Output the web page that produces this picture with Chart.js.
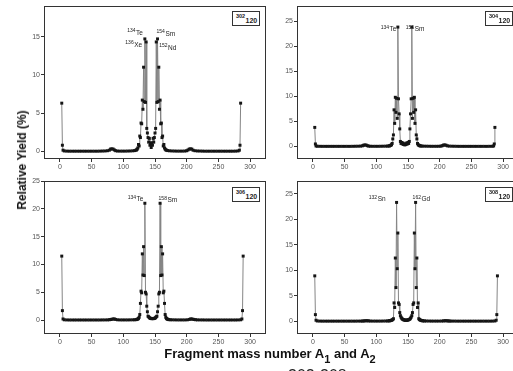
<!DOCTYPE html>
<html>
<head>
<meta charset="utf-8">
<script src="https://cdn.jsdelivr.net/npm/chart.js@4.4.1/dist/chart.umd.min.js"></script>
<style>
  html, body { margin: 0; padding: 0; background: #fff; }
  body { width: 513px; height: 371px; overflow: hidden; position: relative; font-family: "Liberation Sans", Arial, sans-serif; }
  canvas { position: absolute; }
  .tag { position: absolute; width: 28px; height: 15px; box-sizing: border-box; border: 1px solid #333; background: #fff; font-weight: bold; color: #222; }
  .tag .a { position: absolute; left: 3px; top: 1.5px; font-size: 5.5px; line-height: 1; }
  .tag .z { position: absolute; left: 12.5px; top: 4.5px; font-size: 7px; line-height: 1; }
  #ytitle { position: absolute; left: 22px; top: 160px; transform: translate(-50%, -50%) rotate(-90deg); font-weight: bold; font-size: 12px; white-space: nowrap; color: #111; }
  #xtitle { position: absolute; left: 270px; top: 347px; transform: translateX(-50%); font-weight: bold; font-size: 13px; line-height: 13px; white-space: nowrap; color: #111; }
  #xtitle sub { font-size: 11px; vertical-align: -5px; line-height: 0; }
  #foot { position: absolute; left: 288px; top: 368px; font-size: 16px; line-height: 16px; color: #222; white-space: nowrap; }
</style>
</head>
<body>
<canvas id="p302" width="270" height="181" style="left:0;top:0"></canvas>
<canvas id="p304" width="270" height="181" style="left:253px;top:0"></canvas>
<canvas id="p306" width="270" height="181" style="left:0;top:175px"></canvas>
<canvas id="p308" width="270" height="181" style="left:253px;top:175px"></canvas>

<div class="tag" style="left:232px;top:11px"><span class="a">302</span><span class="z">120</span></div>
<div class="tag" style="left:485px;top:11px"><span class="a">304</span><span class="z">120</span></div>
<div class="tag" style="left:232px;top:187px"><span class="a">306</span><span class="z">120</span></div>
<div class="tag" style="left:485px;top:187px"><span class="a">308</span><span class="z">120</span></div>

<div id="ytitle">Relative Yield (%)</div>
<div id="xtitle">Fragment mass number A<sub>1</sub> and A<sub>2</sub></div>
<div id="foot">302-308</div>

<script>
const FONT = '"Liberation Sans", Arial, sans-serif';

const xTicks = [0, 50, 100, 150, 200, 250, 300];
const yTicks302 = [0, 5, 10, 15];
const yTicks304 = [0, 5, 10, 15, 20, 25];
const yTicks306 = [0, 5, 10, 15, 20, 25];
const yTicks308 = [0, 5, 10, 15, 20, 25];

// 302-120
const mass302 = [3,4,5,7,11,15,19,23,27,31,35,39,43,47,51,55,59,63,67,71,75,78,80,82,84,86,88,91,95,99,103,107,111,115,118,120,121,122,123,
  124,125,126,127,128,129,130,131,132,133,134,135,136,137,138,139,140,141,142,143,144,
  145,146,147,148,149,150,151,152,153,154,155,156,157,158,159,160,161,162,163,164,165,166,167,168,
  170,173,177,181,185,189,193,197,200,202,204,206,208,210,
  213,217,221,225,229,233,237,241,245,249,253,257,261,265,269,273,277,281,283,284,285];
const yield302 = [6.3,0.8,0.15,0.05,0.03,0.02,0.02,0.02,0.02,0.02,0.02,0.02,0.02,0.02,0.02,0.02,0.02,0.03,0.04,0.05,0.08,0.15,0.3,0.32,0.3,0.18,0.08,0.04,0.03,0.03,0.03,0.04,0.05,0.07,0.1,0.15,0.2,0.3,0.45,
  0.9,0.7,2.0,1.8,3.7,3.6,6.7,5.5,11.0,6.5,14.7,6.4,14.3,3.0,2.4,1.8,1.2,1.7,0.8,1.1,0.5,
  1.1,0.8,1.7,1.2,1.8,2.4,3.0,14.3,6.4,14.7,6.5,11.0,5.5,6.7,3.6,3.7,1.8,2.0,0.7,0.9,0.45,0.3,0.2,0.15,
  0.1,0.07,0.05,0.04,0.03,0.03,0.03,0.04,0.08,0.18,0.3,0.32,0.3,0.15,
  0.08,0.05,0.04,0.03,0.02,0.02,0.02,0.02,0.02,0.02,0.02,0.02,0.02,0.02,0.02,0.02,0.03,0.05,0.15,0.8,6.3];

// 304-120
const mass304 = [3,4,5,7,11,15,19,23,27,31,35,39,43,47,51,55,59,63,67,71,75,78,80,82,84,86,88,91,95,99,103,107,111,115,118,120,121,122,123,
  124,125,126,127,128,129,130,131,132,133,134,135,136,137,138,139,140,141,142,143,144,145,
  146,147,148,149,150,151,152,153,154,155,156,157,158,159,160,161,162,163,164,165,166,167,168,169,170,
  172,175,179,183,187,191,195,199,202,204,206,208,210,212,
  215,219,223,227,231,235,239,243,247,251,255,259,263,267,271,275,279,283,285,286,287];
const yield304 = [3.8,0.5,0.1,0.04,0.03,0.02,0.02,0.02,0.02,0.02,0.02,0.02,0.02,0.02,0.02,0.02,0.02,0.03,0.04,0.05,0.07,0.12,0.25,0.3,0.28,0.15,0.07,0.04,0.03,0.03,0.03,0.04,0.05,0.06,0.08,0.1,0.12,0.18,0.25,
  0.35,0.6,1.5,2.3,7.3,4.6,9.8,6.8,9.6,5.6,23.8,9.5,6.5,3.5,1.0,0.6,0.8,0.5,0.7,0.4,0.5,0.3,
  0.5,0.4,0.7,0.5,0.8,0.6,1.0,3.5,6.5,9.5,23.8,5.6,9.6,6.8,9.8,4.6,7.3,2.3,1.5,0.6,0.35,0.25,0.18,0.12,0.1,
  0.08,0.06,0.05,0.04,0.03,0.03,0.03,0.04,0.07,0.15,0.28,0.3,0.25,0.12,
  0.07,0.05,0.04,0.03,0.02,0.02,0.02,0.02,0.02,0.02,0.02,0.02,0.02,0.02,0.02,0.02,0.03,0.04,0.1,0.5,3.8];

// 306-120
const mass306 = [3,4,5,7,11,15,19,23,27,31,35,39,43,47,51,55,59,63,67,71,75,78,80,82,84,86,88,91,95,99,103,107,111,115,118,120,121,122,123,
  124,125,126,127,128,129,130,131,132,133,134,135,136,137,138,139,140,141,142,143,144,145,146,
  147,148,149,150,151,152,153,154,155,156,157,158,159,160,161,162,163,164,165,166,167,168,169,170,171,
  172,174,177,181,185,189,193,197,201,204,206,208,210,212,214,
  217,221,225,229,233,237,241,245,249,253,257,261,265,269,273,277,281,285,287,288,289];
const yield306 = [11.5,1.7,0.2,0.05,0.03,0.02,0.02,0.02,0.02,0.02,0.02,0.02,0.02,0.02,0.02,0.02,0.02,0.02,0.03,0.03,0.04,0.06,0.1,0.15,0.2,0.2,0.12,0.05,0.03,0.03,0.03,0.03,0.04,0.05,0.06,0.08,0.1,0.15,0.2,
  0.3,0.5,1.0,3.0,5.2,4.9,11.9,8.1,13.2,8.0,21.0,5.0,4.7,2.5,1.5,0.7,0.6,0.45,0.35,0.3,0.28,0.25,0.3,
  0.25,0.28,0.3,0.35,0.45,0.6,0.7,1.5,2.5,4.7,5.0,21.0,8.0,13.2,8.1,11.9,4.9,5.2,3.0,1.0,0.5,0.3,0.2,0.15,0.1,
  0.08,0.06,0.05,0.04,0.03,0.03,0.03,0.03,0.05,0.12,0.2,0.2,0.15,0.1,0.06,
  0.04,0.03,0.03,0.02,0.02,0.02,0.02,0.02,0.02,0.02,0.02,0.02,0.02,0.02,0.02,0.02,0.03,0.05,0.2,1.7,11.5];

// 308-120
const mass308 = [3,4,5,7,11,15,19,23,27,31,35,39,43,47,51,55,59,63,67,71,75,78,80,82,84,86,88,91,95,99,103,107,111,115,118,120,121,122,123,
  124,125,126,127,128,129,130,131,132,133,134,135,136,137,138,139,140,141,142,143,144,145,146,147,
  148,149,150,151,152,153,154,155,156,157,158,159,160,161,162,163,164,165,166,167,168,169,170,171,172,
  173,174,176,179,183,187,191,195,199,203,206,208,210,212,214,216,
  219,223,227,231,235,239,243,247,251,255,259,263,267,271,275,279,283,287,289,290,291];
const yield308 = [8.9,1.3,0.2,0.05,0.03,0.02,0.02,0.02,0.02,0.02,0.02,0.02,0.02,0.02,0.02,0.02,0.02,0.02,0.02,0.03,0.03,0.04,0.06,0.08,0.1,0.1,0.07,0.04,0.03,0.03,0.03,0.03,0.04,0.05,0.06,0.08,0.1,0.12,0.15,
  0.2,0.25,0.35,0.5,3.6,2.7,12.4,6.6,23.3,10.3,17.3,3.6,3.3,1.7,1.1,0.8,0.6,0.45,0.35,0.3,0.25,0.22,0.2,0.2,
  0.2,0.22,0.25,0.3,0.35,0.45,0.6,0.8,1.1,1.7,3.3,3.6,17.3,10.3,23.3,6.6,12.4,2.7,3.6,0.5,0.35,0.25,0.2,0.15,0.12,
  0.1,0.08,0.06,0.05,0.04,0.03,0.03,0.03,0.03,0.04,0.07,0.1,0.1,0.08,0.06,0.04,
  0.03,0.03,0.02,0.02,0.02,0.02,0.02,0.02,0.02,0.02,0.02,0.02,0.02,0.02,0.02,0.02,0.03,0.05,0.2,1.3,8.9];

// fragment names marked on the peaks
const nuclides302 = ['134Te', '136Xe', '154Sm', '152Nd'];
const nuclides304 = ['134Te', '156Sm'];
const nuclides306 = ['134Te', '158Sm'];
const nuclides308 = ['132Sn', '162Gd'];

// where each name sits next to its point (pixels)
const placeLabels = {
  '302': [{ align: 'right', dx: -2, dy: -4 }, { align: 'right', dx: -4, dy: 5 }, { align: 'left', dx: -1, dy: -3 }, { align: 'left', dx: 3, dy: 8 }],
  '304': [{ align: 'right', dx: -1.5, dy: 4 }, { align: 'left', dx: -6, dy: 4 }],
  '306': [{ align: 'right', dx: -1.5, dy: -2 }, { align: 'left', dx: -1.5, dy: -1 }],
  '308': [{ align: 'right', dx: -11, dy: -1 }, { align: 'left', dx: -3, dy: -1 }]
};

function framePlugin(names, places) {
  return {
    id: 'frame',
    afterDraw(chart) {
      const { ctx, chartArea: a } = chart;
      ctx.save();
      ctx.strokeStyle = '#333';
      ctx.lineWidth = 1;
      ctx.strokeRect(Math.round(a.left) + 0.5, Math.round(a.top) + 0.5,
        Math.round(a.right - a.left) - 1, Math.round(a.bottom - a.top) - 1);

      const pts = chart.data.datasets[0].data;
      const meta = chart.getDatasetMeta(0);
      ctx.fillStyle = '#222';
      ctx.textAlign = 'left';
      ctx.textBaseline = 'alphabetic';
      names.forEach((n, k) => {
        const sup = n.match(/^\d+/)[0];
        const sym = n.slice(sup.length);
        const i = pts.findIndex(p => p.x === Number(sup));
        if (i < 0) return;
        const el = meta.data[i];
        const p = places[k];
        ctx.font = '5px ' + FONT;
        const wSup = ctx.measureText(sup).width;
        ctx.font = '6.5px ' + FONT;
        const wSym = ctx.measureText(sym).width;
        const total = wSup + 0.5 + wSym;
        const x0 = p.align === 'right' ? el.x + p.dx - total : el.x + p.dx;
        const yb = el.y + p.dy;
        ctx.font = '5px ' + FONT;
        ctx.fillText(sup, x0, yb - 2.5);
        ctx.font = '6.5px ' + FONT;
        ctx.fillText(sym, x0 + wSup + 0.5, yb);
      });
      ctx.restore();
    }
  };
}

function makePanel(id, masses, yields, yMin, yMax, yTicks, names) {
  const pts = masses.map((m, i) => ({ x: m, y: yields[i] }));
  const tickFont = { size: 7, family: FONT };
  return new Chart(document.getElementById(id), {
    type: 'scatter',
    data: {
      datasets: [{
        data: pts,
        showLine: true,
        borderColor: '#858585',
        borderWidth: 1,
        tension: 0,
        pointStyle: 'rect',
        pointRadius: 2.1,
        pointBackgroundColor: '#151515',
        pointBorderWidth: 0
      }]
    },
    options: {
      responsive: false,
      animation: false,
      events: [],
      layout: { padding: { top: 6, right: 4, left: 0, bottom: 0 } },
      plugins: { legend: { display: false }, tooltip: { enabled: false } },
      scales: {
        x: {
          type: 'linear', min: -25, max: 325,
          afterBuildTicks: s => { s.ticks = xTicks.map(v => ({ value: v })); },
          afterFit: s => { s.height = 22; },
          grid: { drawOnChartArea: false, drawTicks: true, tickLength: 3, color: '#333' },
          border: { display: false },
          ticks: { font: tickFont, color: '#555', padding: 1, maxRotation: 0, autoSkip: false }
        },
        y: {
          type: 'linear', min: yMin, max: yMax,
          afterBuildTicks: s => { s.ticks = yTicks.map(v => ({ value: v })); },
          afterFit: s => { s.width = 44; },
          grid: { drawOnChartArea: false, drawTicks: true, tickLength: 3, color: '#333' },
          border: { display: false },
          ticks: { font: tickFont, color: '#555', padding: 1, autoSkip: false }
        }
      }
    },
    plugins: [framePlugin(names, placeLabels[id.slice(1)])]
  });
}

makePanel('p302', mass302, yield302, -1, 19, yTicks302, nuclides302);
makePanel('p304', mass304, yield304, -2.5, 28, yTicks304, nuclides304);
makePanel('p306', mass306, yield306, -2.5, 25, yTicks306, nuclides306);
makePanel('p308', mass308, yield308, -2.5, 27.5, yTicks308, nuclides308);
</script>
</body>
</html>
